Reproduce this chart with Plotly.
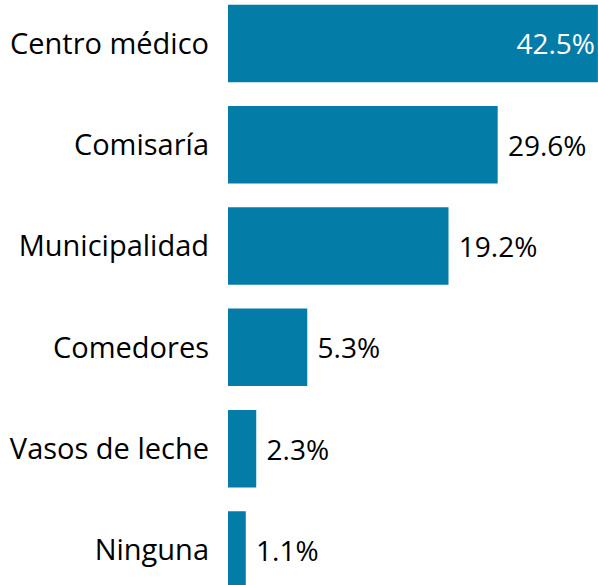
import plotly.graph_objects as go

categories = ["Centro médico", "Comisaría", "Municipalidad", "Comedores", "Vasos de leche", "Ninguna"]
percent_labels = [42.5, 29.6, 19.2, 5.3, 2.3, 1.1]
# bar lengths as drawn in the picture (same axis units as the labels)
bar_lengths = [40.6, 29.6, 24.2, 8.7, 3.1, 1.95]

bar_color = "#037ca7"
font_family = "Open Sans"

text_positions = ["inside"] + ["outside"] * (len(categories) - 1)
text_colors = ["white"] + ["black"] * (len(categories) - 1)
labels = [f"{percent_labels[0]:.1f}%"] + ["\u00a0" + f"{v:.1f}%" for v in percent_labels[1:]]

fig = go.Figure(
    go.Bar(
        y=categories,
        x=bar_lengths,
        orientation="h",
        marker=dict(color=bar_color, line=dict(width=0)),
        text=labels,
        textposition=text_positions,
        insidetextanchor="end",
        constraintext="none",
        textangle=0,
        textfont=dict(family=font_family, size=28, color=text_colors),
        insidetextfont=dict(family=font_family, size=28, color="white"),
        cliponaxis=False,
        hoverinfo="skip",
    )
)

fig.update_layout(
    width=598,
    height=585,
    margin=dict(l=228, r=0, t=0, b=0, autoexpand=False),
    paper_bgcolor="white",
    plot_bgcolor="white",
    bargap=0.235,
    showlegend=False,
    font=dict(family=font_family, size=28, color="black"),
)
fig.update_xaxes(range=[0, 40.61], visible=False, showgrid=False, zeroline=False)
fig.update_yaxes(
    range=[5.346, -0.429],
    showgrid=False,
    zeroline=False,
    showline=False,
    ticks="",
    ticklabelstandoff=18,
    tickfont=dict(family=font_family, size=29, color="black"),
)

fig.write_html(
    "out.html",
    config={"displayModeBar": False},
    post_script="document.body.style.margin='0';document.body.style.overflow='hidden';",
)
